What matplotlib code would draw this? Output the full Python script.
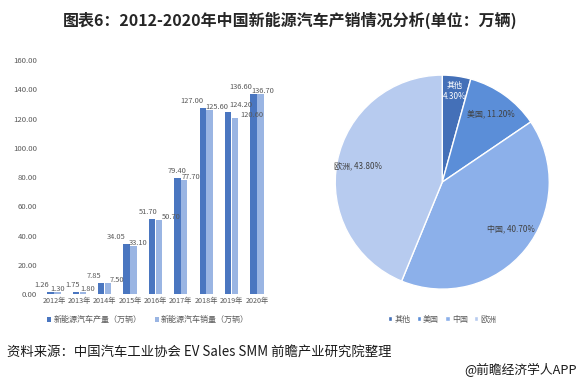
import numpy as np
import matplotlib
matplotlib.use('Agg')
import matplotlib.pyplot as plt

plt.rcParams['font.family'] = ['Noto Sans CJK SC', 'DejaVu Sans']

years = ['2012年', '2013年', '2014年', '2015年', '2016年', '2017年', '2018年', '2019年', '2020年']
production = [1.26, 1.75, 7.85, 34.05, 51.70, 79.40, 127.00, 124.20, 136.60]
sales = [1.30, 1.80, 7.50, 33.10, 50.70, 77.70, 125.60, 120.60, 136.70]
bar_names = ['新能源汽车产量（万辆）', '新能源汽车销量（万辆）']

regions = ['其他', '美国', '中国', '欧洲']
shares = [4.30, 11.20, 40.70, 43.80]

# horizontal nudges (pixels) of the value labels, as placed in the original
dark_dx = [-9, -3, -7, -11, -4, 0, -11, 13, -13]
light_dx = [0, 5, 9, 5, 12, 7, 7, 17, 2]

c_dark = '#4a76c0'
c_light = '#9ab5e3'
pie_colors = ['#4470b8', '#5b8ed8', '#8cb0ea', '#b7cbef']
grey = '#595959'

fig = plt.figure(figsize=(5.8, 3.85), dpi=100)

# bar chart
ax = fig.add_axes([0.069, 0.236, 0.398, 0.608])
x = np.arange(len(years))
w = 0.25
b1 = ax.bar(x - w / 2 - 0.01, production, width=w, color=c_dark, label=bar_names[0], zorder=2)
b2 = ax.bar(x + w / 2 + 0.01, sales, width=w, color=c_light, label=bar_names[1], zorder=2)
for rect, v, dx in zip(b1, production, dark_dx):
    ax.annotate('%.2f' % v, (rect.get_x() + rect.get_width() / 2, v), xytext=(dx, 3),
                textcoords='offset pixels', ha='center', va='bottom', fontsize=5.4,
                color=grey, zorder=3)
for rect, v, dx in zip(b2, sales, light_dx):
    ax.annotate('%.2f' % v, (rect.get_x() + rect.get_width() / 2, v), xytext=(dx, 3),
                textcoords='offset pixels', ha='center', va='center', fontsize=5.4,
                color=grey, zorder=3)
ax.set_ylim(0, 160)
ax.set_xlim(-0.55, len(years) - 0.45)
ax.set_yticks(np.arange(0, 161, 20))
ax.set_yticklabels(['%.2f' % t for t in np.arange(0, 161, 20)])
ax.set_xticks(x)
ax.set_xticklabels(years)
ax.tick_params(axis='both', length=0, labelsize=5.6, colors=grey, pad=2)
ax.tick_params(axis='x', labelsize=5.2)
for s in ax.spines.values():
    s.set_visible(False)
ax.legend(loc='upper left', bbox_to_anchor=(0.0, -0.06), ncol=2, frameon=False,
          fontsize=5.8, labelcolor=grey, handlelength=0.5, handleheight=0.5,
          handletextpad=0.3, columnspacing=1.6)

# pie chart
ax2 = fig.add_axes([0.578, 0.249, 0.369, 0.556])
wedges, _ = ax2.pie(shares, colors=pie_colors, startangle=90, counterclock=False,
                    wedgeprops=dict(edgecolor='white', linewidth=1))
ax2.set_xlim(-1, 1)
ax2.set_ylim(-1, 1)
ax2.set_aspect('equal')
label_r = [0.86, 0.78, 0.78, 0.80]
label_c = ['white', '#404040', '#404040', '#404040']
for wd, name, val, r, col in zip(wedges, regions, shares, label_r, label_c):
    ang = np.deg2rad((wd.theta1 + wd.theta2) / 2)
    if name == '中国':
        ang += np.deg2rad(5)
    sep = '\n' if val < 5 else ', '
    ax2.text(r * np.cos(ang), r * np.sin(ang), '%s%s%.2f%%' % (name, sep, val),
             ha='center', va='center', fontsize=5.8, color=col, linespacing=1.2)
ax2.legend(wedges, regions, loc='upper center', bbox_to_anchor=(0.5, -0.085), ncol=4,
           frameon=False, fontsize=5.8, labelcolor=grey, handlelength=0.5,
           handleheight=0.5, handletextpad=0.3, columnspacing=0.8)

fig.text(0.5, 0.948, '图表6：2012-2020年中国新能源汽车产销情况分析(单位：万辆)',
         ha='center', va='center', fontsize=11.5, fontweight='bold', color='#262626')
fig.text(0.012, 0.083, '资料来源：中国汽车工业协会 EV Sales SMM 前瞻产业研究院整理',
         ha='left', va='center', fontsize=9.6, color='#1a1a1a')
fig.text(0.995, 0.039, '@前瞻经济学人APP', ha='right', va='center', fontsize=9.2, color='#1a1a1a')

fig.savefig('out.png', dpi=100)
